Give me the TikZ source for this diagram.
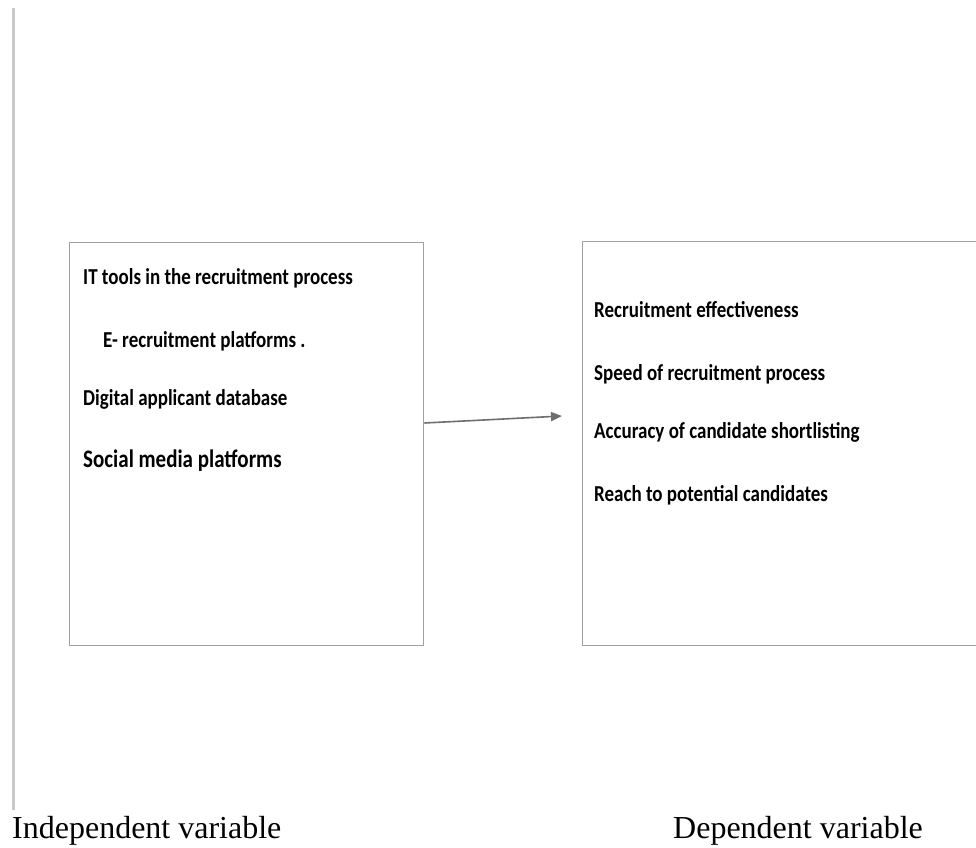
\documentclass[tikz,border=0pt]{standalone}
\usepackage{graphicx}
\usepackage{fontspec}
\setmainfont{Liberation Serif}
\newfontfamily\calfont{Carlito}
\usetikzlibrary{arrows.meta}
\definecolor{boxgray}{HTML}{A0A0A0}
\definecolor{arrgray}{HTML}{6E6E6E}
\definecolor{railgray}{HTML}{CACACA}
\newcommand\talltext[1]{\scalebox{1}[1.2]{#1}}
\tikzset{
  varbox/.style={draw=boxgray, line width=1.3pt, rectangle, inner sep=0pt, anchor=north west},
  item/.style={anchor=base west, inner sep=0pt, font=\calfont\bfseries\fontsize{19}{22}\selectfont},
  bigitem/.style={anchor=base west, inner sep=0pt, font=\calfont\bfseries\fontsize{21}{24}\selectfont},
  caption/.style={anchor=base west, inner sep=0pt, font=\fontsize{32}{36}\selectfont},
  link/.style={draw=arrgray, line width=1.6pt, -{Triangle[length=11pt,width=9pt]}}
}
\begin{document}
\begin{tikzpicture}[x=1pt,y=-1pt]
\useasboundingbox (0,0) rectangle (976,847);
\fill[white] (0,0) rectangle (976,847);
% left rail
\coordinate (rtop) at (13,8);
\coordinate (rbot) at (13,810);
\draw[railgray, line width=3pt] (rtop) -- (rbot);
% boxes
\node[varbox, minimum width=354pt, minimum height=403pt] (L) at (69,242) {};
\node[varbox, minimum width=430pt, minimum height=404pt] (R) at (582,241) {};
% left items
\node[item] (l1) at (83,284) {\talltext{IT tools in the recruitment process}};
\node[item] (l2) at (103,347) {\talltext{E- recruitment platforms .}};
\node[item] (l3) at (83,405) {\talltext{Digital applicant database}};
\node[bigitem] (l4) at (83,467) {\talltext{Social media platforms}};
% right items
\node[item] (r1) at (594,317) {\talltext{Recruitment effectiveness}};
\node[item] (r2) at (594,380) {\talltext{Speed of recruitment process}};
\node[item] (r3) at (594,438) {\talltext{Accuracy of candidate shortlisting}};
\node[item] (r4) at (594,501) {\talltext{Reach to potential candidates}};
% arrow
\coordinate (astart) at (L.east |- 0,423);
\coordinate (aend) at (562,416);
\draw[link] (astart) -- (aend);
% captions
\node[caption] (c1) at (12,838) {Independent variable};
\node[caption] (c2) at (673,838) {Dependent variable};
\end{tikzpicture}
\end{document}
